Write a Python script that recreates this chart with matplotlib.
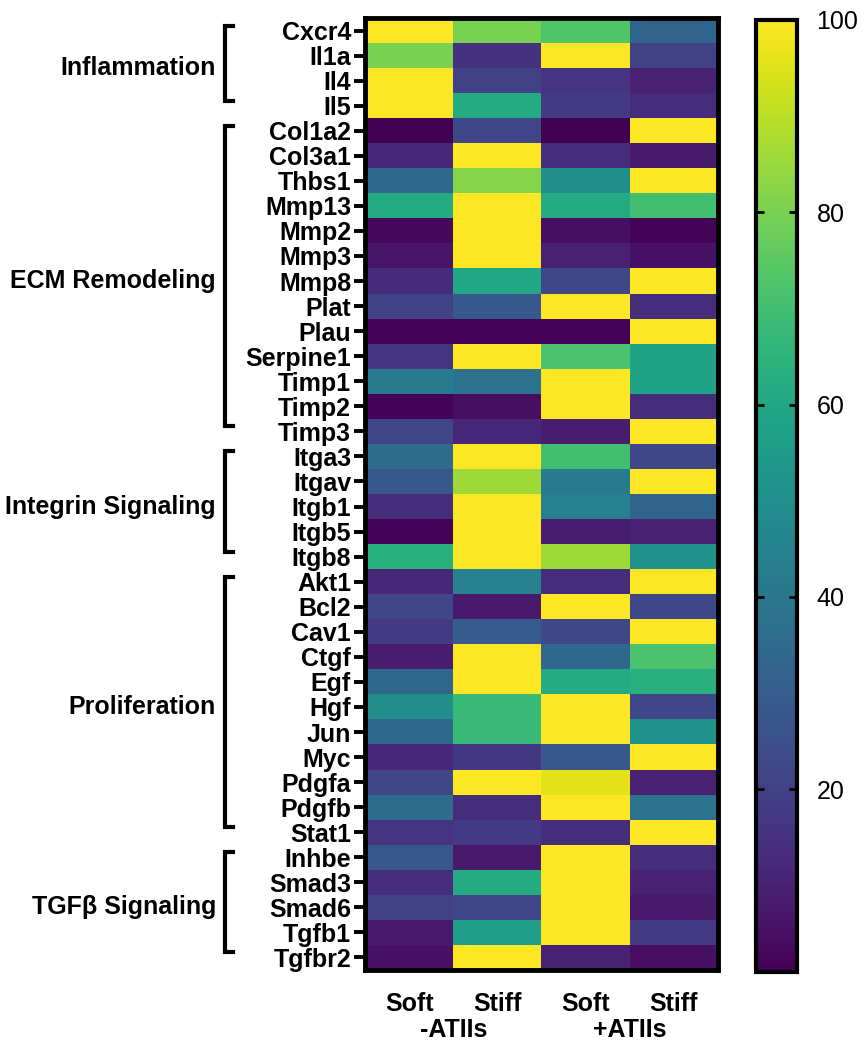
import numpy as np
import matplotlib
matplotlib.use("Agg")
import matplotlib.pyplot as plt
from matplotlib.transforms import blended_transform_factory

plt.rcParams['font.family'] = ['Liberation Sans', 'DejaVu Sans']

genes = ["Cxcr4", "Il1a", "Il4", "Il5",
         "Col1a2", "Col3a1", "Thbs1", "Mmp13", "Mmp2", "Mmp3", "Mmp8", "Plat",
         "Plau", "Serpine1", "Timp1", "Timp2", "Timp3",
         "Itga3", "Itgav", "Itgb1", "Itgb5", "Itgb8",
         "Akt1", "Bcl2", "Cav1", "Ctgf", "Egf", "Hgf", "Jun", "Myc", "Pdgfa",
         "Pdgfb", "Stat1",
         "Inhbe", "Smad3", "Smad6", "Tgfb1", "Tgfbr2"]

groups = ["Inflammation", "ECM Remodeling", "Integrin Signaling",
          "Proliferation", "TGF\u03b2 Signaling"]
group_sizes = [4, 13, 5, 11, 5]

conditions = ["Soft", "Stiff", "Soft", "Stiff"]
treatments = ["-ATIIs", "+ATIIs"]

# columns: Soft -ATIIs, Stiff -ATIIs, Soft +ATIIs, Stiff +ATIIs
soft_minus = [100, 80, 100, 100,
              1, 12, 34, 62, 3, 7, 13, 20, 2, 16, 42, 2, 22,
              36, 28, 14, 2, 64,
              12, 22, 18, 9, 34, 50, 34, 12, 22, 36, 16,
              28, 14, 20, 8, 6]
stiff_minus = [80, 15, 20, 62,
               22, 100, 82, 100, 100, 100, 60, 28, 2, 100, 38, 5, 12,
               100, 86, 100, 100, 100,
               44, 8, 30, 100, 100, 68, 68, 17, 100, 14, 18,
               8, 62, 22, 56, 100]
soft_plus = [73, 100, 16, 18,
             1, 14, 50, 62, 5, 10, 22, 100, 2, 72, 100, 100, 9,
             70, 42, 44, 9, 86,
             14, 100, 22, 34, 62, 100, 100, 28, 96, 100, 14,
             100, 100, 100, 100, 10]
stiff_plus = [33, 20, 10, 14,
              100, 8, 100, 70, 2, 6, 100, 14, 100, 58, 58, 14, 100,
              22, 100, 33, 10, 52,
              100, 22, 100, 72, 64, 22, 52, 100, 10, 38, 100,
              14, 10, 8, 18, 5]

data = np.array([soft_minus, stiff_minus, soft_plus, stiff_plus]).T

fs = 18

fig = plt.figure(figsize=(8.66, 10.5), dpi=100)
ax = fig.add_axes([365 / 866, 1 - 970 / 1050, 353 / 866, 952 / 1050])
im = ax.imshow(data, cmap="viridis", vmin=1, vmax=100, aspect="auto",
               interpolation="nearest")

ax.set_yticks(np.arange(len(genes)))
ax.set_yticklabels(genes, fontsize=fs, fontweight="bold")
ax.tick_params(axis="y", length=8, width=2.8, pad=2)
ax.set_xticks(np.arange(len(conditions)))
ax.set_xticklabels(conditions, fontsize=fs, fontweight="bold")
ax.tick_params(axis="x", length=0, pad=16)
for s in ax.spines.values():
    s.set_linewidth(3.5)

# treatment labels under the column labels
trans_x = blended_transform_factory(ax.transData, fig.transFigure)
for i, t in enumerate(treatments):
    ax.text(2 * i + 0.5, 1 - 1030 / 1050, t, transform=trans_x, ha="center",
            va="center", fontsize=fs, fontweight="bold")

# group brackets and labels
trans_y = blended_transform_factory(fig.transFigure, ax.transData)
bx = 225 / 866
hook = 8 / 866
start = 0
for name, n in zip(groups, group_sizes):
    top = start - 0.2
    bot = start + n - 1 - 0.2
    ax.plot([bx + hook, bx, bx, bx + hook], [top, top, bot, bot],
            transform=trans_y, color="black", lw=3, clip_on=False,
            solid_joinstyle="miter")
    ax.text(216 / 866, start + (n - 1) / 2, name, transform=trans_y,
            ha="right", va="center", fontsize=fs, fontweight="bold")
    start += n

cax = fig.add_axes([756 / 866, 1 - 972 / 1050, 41 / 866, 952 / 1050])
cbar = fig.colorbar(im, cax=cax, ticks=[20, 40, 60, 80, 100])
cbar.outline.set_linewidth(3)
cax.tick_params(direction="in", left=True, right=True, length=6, width=2,
                labelsize=fs, pad=14)

fig.savefig("out.png", dpi=100)
